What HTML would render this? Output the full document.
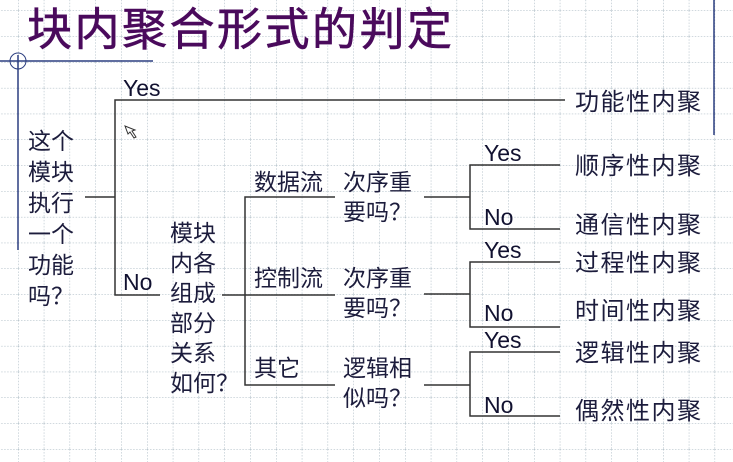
<!DOCTYPE html>
<html><head><meta charset="utf-8"><style>
body{margin:0;width:733px;height:462px;overflow:hidden;background:#fff;position:relative;font-family:"Liberation Sans","Noto Sans CJK SC",sans-serif;color:#1c1c3c}
svg{position:absolute;left:0;top:0}
.t{position:absolute;font-size:23px;line-height:28px;white-space:nowrap}
.r{position:absolute;font-size:24px;line-height:28px;letter-spacing:1.5px;white-space:nowrap}
.e{position:absolute;font-size:23px;line-height:24px;color:#111130}
.v{position:absolute;font-size:23px;line-height:31px}
</style></head><body>
<svg width="733" height="462">
<defs><pattern id="g" x="18" y="10.5" width="25.8" height="25.8" patternUnits="userSpaceOnUse">
<path d="M0 0H25.8M0 0V25.8" stroke="#9fb0bb" stroke-width="1" stroke-dasharray="1.5 1.5" fill="none"/></pattern></defs>
<rect width="733" height="462" fill="url(#g)"/>
<g stroke="#2c3e80" stroke-width="1.5" fill="none">
<line x1="0" y1="61" x2="153" y2="61"/><line x1="18" y1="55" x2="18" y2="250"/>
<circle cx="18" cy="61" r="8" stroke-width="1"/>
<line x1="714" y1="0" x2="714" y2="135"/>
</g>
<g stroke="#333" stroke-width="1.5" fill="none">
<path d="M85 197H115M565 100H115V295H160"/>
<path d="M222 295H245M335 197H245V385H335M245 295H335"/>
<path d="M424 197H470M560 165H470V229H560"/>
<path d="M424 294H470M560 262H470V327H560"/>
<path d="M424 385H470M560 352H470V416H560"/>
</g>
<path d="M125 126l3 8 2-2 4 6 2-1-4-6 3-1z" fill="#fff" stroke="#333" stroke-width="1"/>
</svg>
<div class="t" style="left:27px;top:2px;font-size:45px;line-height:56px;color:#4a0a5c;letter-spacing:2.5px;-webkit-text-stroke:0.6px #4a0a5c">块内聚合形式的判定</div>
<div class="v" style="left:28px;top:126px">这个<br>模块<br>执行<br>一个<br>功能<br>吗？</div>
<div class="v" style="left:170px;top:218px;line-height:30px">模块<br>内各<br>组成<br>部分<br>关系<br>如何？</div>
<div class="e" style="left:123px;top:76px">Yes</div>
<div class="e" style="left:123px;top:270px">No</div>
<div class="t" style="left:254px;top:168px">数据流</div>
<div class="t" style="left:254px;top:264px">控制流</div>
<div class="t" style="left:254px;top:354px">其它</div>
<div class="v" style="left:343px;top:167px;line-height:30px">次序重<br>要吗？</div>
<div class="v" style="left:343px;top:263px;line-height:30px">次序重<br>要吗？</div>
<div class="v" style="left:343px;top:353px;line-height:30px">逻辑相<br>似吗？</div>
<div class="e" style="left:484px;top:141px">Yes</div>
<div class="e" style="left:484px;top:205px">No</div>
<div class="e" style="left:484px;top:238px">Yes</div>
<div class="e" style="left:484px;top:301px">No</div>
<div class="e" style="left:484px;top:328px">Yes</div>
<div class="e" style="left:484px;top:393px">No</div>
<div class="r" style="left:575px;top:89px">功能性内聚</div>
<div class="r" style="left:575px;top:153px">顺序性内聚</div>
<div class="r" style="left:575px;top:212px">通信性内聚</div>
<div class="r" style="left:575px;top:250px">过程性内聚</div>
<div class="r" style="left:575px;top:298px">时间性内聚</div>
<div class="r" style="left:575px;top:340px">逻辑性内聚</div>
<div class="r" style="left:575px;top:398px">偶然性内聚</div>
</body></html>
